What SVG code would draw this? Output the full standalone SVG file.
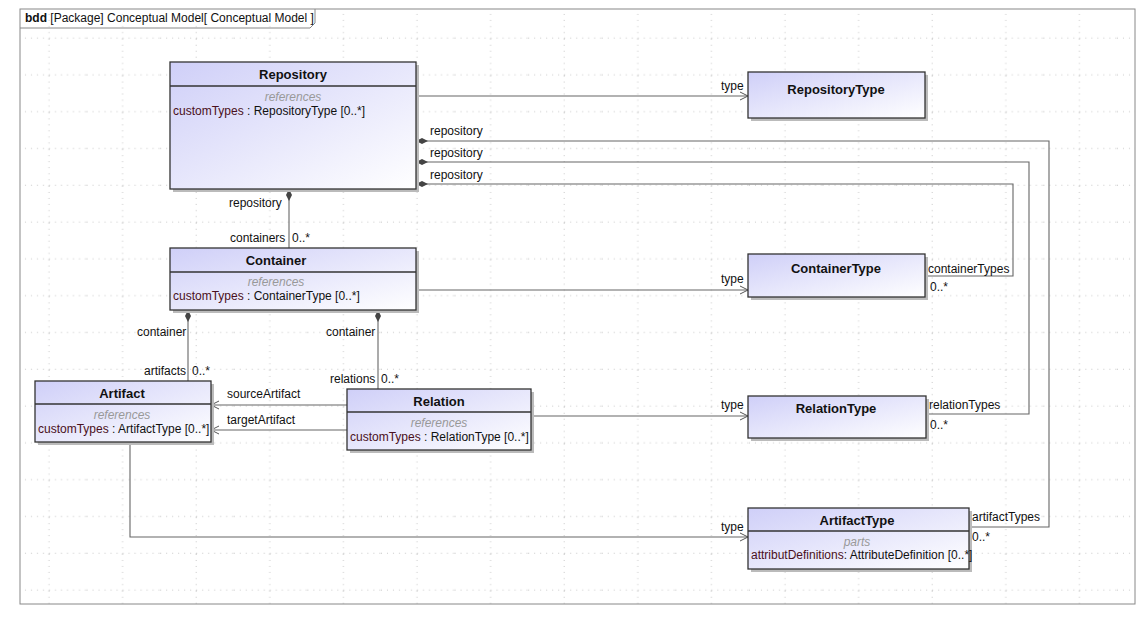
<svg xmlns="http://www.w3.org/2000/svg" width="1147" height="617" viewBox="0 0 1147 617">
<defs>
<linearGradient id="g" x1="0" y1="0" x2="1" y2="1"><stop offset="0" stop-color="#cfcff8"/><stop offset="1" stop-color="#ffffff"/></linearGradient>
<pattern id="grid" x="13" y="2" width="73.6" height="36.8" patternUnits="userSpaceOnUse">
<line x1="36" y1="0" x2="36" y2="36.8" stroke="#c8c8c8" stroke-width="1" stroke-dasharray="1 5"/>
<line x1="0" y1="36" x2="73.6" y2="36" stroke="#c8c8c8" stroke-width="1" stroke-dasharray="1 5"/>
</pattern>
<marker id="open" markerWidth="10" markerHeight="10" refX="9" refY="5" orient="auto" markerUnits="userSpaceOnUse"><path d="M1,1 L9,5 L1,9" fill="none" stroke="#555" stroke-width="1"/></marker>
<marker id="dia" markerWidth="16" markerHeight="8" refX="1" refY="4" orient="auto" markerUnits="userSpaceOnUse"><path d="M1,4 L7,1 L13,4 L7,7 Z" fill="#444"/></marker>
</defs>
<style>
text{font-family:"Liberation Sans",Arial,sans-serif;font-size:12px;fill:#111}
.n{font-weight:bold;font-size:13px;text-anchor:middle}
.r{font-style:italic;fill:#999;text-anchor:middle}
.a{fill:#4a1020}
.box{fill:url(#g);stroke:#333;stroke-width:1.3}
.sh{fill:#bbb}
.c{fill:none;stroke:#666;stroke-width:1.1}
</style>
<rect x="0" y="0" width="1147" height="617" fill="#fff"/>
<rect x="20" y="9" width="1115" height="595" fill="url(#grid)" stroke="#888" stroke-width="1"/>
<path d="M20,28 H310 L315,23 V9" fill="none" stroke="#888"/>
<text x="25" y="22"><tspan font-weight="bold">bdd</tspan> [Package] Conceptual Model[ Conceptual Model ]</text>

<g id="connectors">
<path class="c" d="M416,96 H748" marker-end="url(#open)"/>
<path class="c" d="M416,141 H1049 V527 H969" marker-start="url(#dia)"/>
<path class="c" d="M416,162 H1029 V414 H926" marker-start="url(#dia)"/>
<path class="c" d="M416,184 H1013 V276 H925" marker-start="url(#dia)"/>
<path class="c" d="M289,189 V248" marker-start="url(#dia)"/>
<path class="c" d="M416,290 H748" marker-end="url(#open)"/>
<path class="c" d="M188,310 V381" marker-start="url(#dia)"/>
<path class="c" d="M378,310 V389" marker-start="url(#dia)"/>
<path class="c" d="M347,405 H211" marker-end="url(#open)"/>
<path class="c" d="M347,430 H211" marker-end="url(#open)"/>
<path class="c" d="M531,416 H748" marker-end="url(#open)"/>
<path class="c" d="M130,442 V537 H748" marker-end="url(#open)"/>
<text x="721" y="90">type</text>
<text x="430" y="135">repository</text>
<text x="430" y="157">repository</text>
<text x="430" y="179">repository</text>
<text x="229" y="207">repository</text>
<text x="230" y="242">containers</text>
<text x="292" y="242">0..*</text>
<text x="721" y="283">type</text>
<text x="928" y="273">containerTypes</text>
<text x="930" y="291">0..*</text>
<text x="137" y="336">container</text>
<text x="326" y="336">container</text>
<text x="144" y="375">artifacts</text>
<text x="192" y="375">0..*</text>
<text x="330" y="383">relations</text>
<text x="381" y="383">0..*</text>
<text x="227" y="398">sourceArtifact</text>
<text x="227" y="424">targetArtifact</text>
<text x="721" y="409">type</text>
<text x="929" y="409">relationTypes</text>
<text x="930" y="429">0..*</text>
<text x="721" y="531">type</text>
<text x="972" y="521">artifactTypes</text>
<text x="972" y="541">0..*</text>
</g>

<g id="Repository">
<rect class="sh" x="173" y="65" width="246" height="127"/>
<rect class="box" x="170" y="62" width="246" height="127"/>
<line x1="170" y1="86" x2="416" y2="86" stroke="#333" stroke-width="1.3"/>
<text class="n" x="293" y="79">Repository</text>
<text class="r" x="293" y="101">references</text>
<text x="173" y="115"><tspan class="a">customTypes</tspan> : RepositoryType [0..*]</text>
</g>
<g id="RepositoryType">
<rect class="sh" x="751" y="75" width="177" height="46"/>
<rect class="box" x="748" y="72" width="177" height="46"/>
<text class="n" x="836" y="94">RepositoryType</text>
</g>
<g id="Container">
<rect class="sh" x="173" y="251" width="246" height="62"/>
<rect class="box" x="170" y="248" width="246" height="62"/>
<line x1="170" y1="272" x2="416" y2="272" stroke="#333" stroke-width="1.3"/>
<text class="n" x="276" y="265">Container</text>
<text class="r" x="276" y="286">references</text>
<text x="173" y="300"><tspan class="a">customTypes</tspan> : ContainerType [0..*]</text>
</g>
<g id="ContainerType">
<rect class="sh" x="751" y="257" width="177" height="43"/>
<rect class="box" x="748" y="254" width="177" height="43"/>
<text class="n" x="836" y="273">ContainerType</text>
</g>
<g id="Artifact">
<rect class="sh" x="38" y="384" width="176" height="61"/>
<rect class="box" x="35" y="381" width="176" height="61"/>
<line x1="35" y1="404" x2="211" y2="404" stroke="#333" stroke-width="1.3"/>
<text class="n" x="122" y="398">Artifact</text>
<text class="r" x="122" y="419">references</text>
<text x="38" y="433"><tspan class="a">customTypes</tspan> : ArtifactType [0..*]</text>
</g>
<g id="Relation">
<rect class="sh" x="350" y="392" width="184" height="61"/>
<rect class="box" x="347" y="389" width="184" height="61"/>
<line x1="347" y1="412" x2="531" y2="412" stroke="#333" stroke-width="1.3"/>
<text class="n" x="439" y="406">Relation</text>
<text class="r" x="439" y="427">references</text>
<text x="350" y="441"><tspan class="a">customTypes</tspan> : RelationType [0..*]</text>
</g>
<g id="RelationType">
<rect class="sh" x="751" y="399" width="178" height="42"/>
<rect class="box" x="748" y="396" width="178" height="42"/>
<text class="n" x="836" y="413">RelationType</text>
</g>
<g id="ArtifactType">
<rect class="sh" x="751" y="511" width="221" height="61"/>
<rect class="box" x="748" y="508" width="221" height="61"/>
<line x1="748" y1="531" x2="969" y2="531" stroke="#333" stroke-width="1.3"/>
<text class="n" x="857" y="525">ArtifactType</text>
<text class="r" x="857" y="546">parts</text>
<text x="751" y="559" font-size="11.5"><tspan class="a">attributDefinitions</tspan>: AttributeDefinition [0..*]</text>
</g>
</svg>
